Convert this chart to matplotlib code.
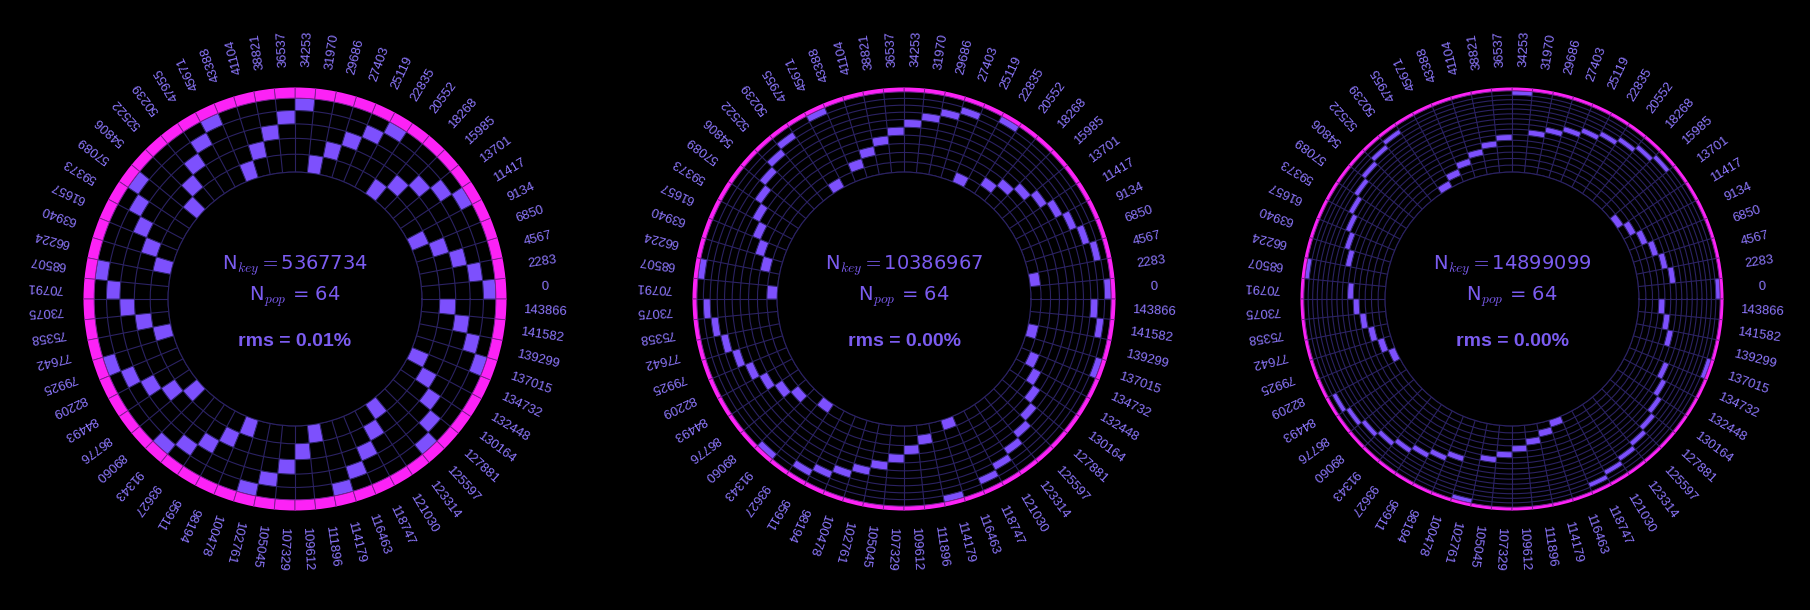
import numpy as np
import matplotlib
matplotlib.use("Agg")
import matplotlib.pyplot as plt

plt.rcParams['mathtext.fontset'] = 'cm'

# bucket boundaries printed round the rings, counter-clockwise from east
bin_labels = ["0", "2283", "4567", "6850", "9134", "11417", "13701", "15985",
              "18268", "20552", "22835", "25119", "27403", "29686", "31970", "34253",
              "36537", "38821", "41104", "43388", "45671", "47955", "50239", "52522",
              "54806", "57089", "59373", "61657", "63940", "66224", "68507", "70791",
              "73075", "75358", "77642", "79925", "82209", "84493", "86776", "89060",
              "91343", "93627", "95911", "98194", "100478", "102761", "105045", "107329",
              "109612", "111896", "114179", "116463", "118747", "121030", "123314", "125597",
              "127881", "130164", "132448", "134732", "137015", "139299", "141582", "143866"]

# ring (0 = innermost) holding each bucket's cell, same order as the labels
rings_a = [4, 3, 2, 1, 0, 4, 3, 2, 1, 0, 4, 3, 2, 1, 0, 4,
           3, 2, 1, 0, 4, 3, 2, 1, 0, 4, 3, 2, 1, 0, 4, 3,
           2, 1, 0, 4, 3, 2, 1, 0, 4, 3, 2, 1, 0, 4, 3, 2,
           1, 0, 4, 3, 2, 1, 0, 4, 3, 2, 1, 0, 4, 3, 2, 1]
rings_b = [9, 0, 8, 7, 6, 5, 4, 3, 2, 1, 9, 0, 8, 7, 6, 5,
           4, 3, 2, 1, 9, 0, 8, 7, 6, 5, 4, 3, 2, 1, 9, 0,
           8, 7, 6, 5, 4, 3, 2, 1, 9, 0, 8, 7, 6, 5, 4, 3,
           2, 1, 9, 0, 8, 7, 6, 5, 4, 3, 2, 1, 9, 0, 8, 7]
rings_c = [14, 5, 4, 3, 2, 1, 0, 13, 12, 11, 10, 9, 8, 7, 6, 14,
           5, 4, 3, 2, 1, 0, 13, 12, 11, 10, 9, 8, 7, 6, 14, 5,
           4, 3, 2, 1, 0, 13, 12, 11, 10, 9, 8, 7, 6, 14, 5, 4,
           3, 2, 1, 0, 13, 12, 11, 10, 9, 8, 7, 6, 14, 5, 4, 3]

n_keys = [5367734, 10386967, 14899099]
n_pop = 64
rms_vals = ["0.01%", "0.00%", "0.00%"]
n_rings = [5, 10, 15]

# layout
r_top = [5.9, 10.67, 15.75]   # axis limit in ring units (magenta band is clipped there)
centers_px = [295, 904, 1512]
size_px = 423
W, H = 1810, 610

cell_col = '#7d50fd'
mag_col = '#fc22f6'
grid_col = '#2b2262'
text_col = '#7b5cf0'
lab_col = '#8e78ff'

fig = plt.figure(figsize=(W / 100, H / 100), dpi=100, facecolor='black')

nb = len(bin_labels)
width = 2 * np.pi / nb
theta = np.arange(nb) * width + width / 2

for k, rings in enumerate([rings_a, rings_b, rings_c]):
    cx = centers_px[k]
    ax = fig.add_axes([(cx - size_px / 2) / W, (H - 299 - size_px / 2) / H,
                       size_px / W, size_px / H], projection='polar')
    ax.set_facecolor('black')

    # equal-area rings: radius grows like sqrt of the ring value
    u0 = 0.5625 * r_top[k]
    ax.set_rscale('function', functions=(lambda u, u0=u0: np.sqrt(np.maximum(u + u0, 0)),
                                         lambda s, u0=u0: s ** 2 - u0))
    ax.set_rorigin(-u0)
    ax.set_rlim(0, r_top[k])

    ax.set_xticks(np.arange(nb) * width)
    ax.set_xticklabels([])
    ax.set_yticks(np.arange(n_rings[k] + 1))
    ax.set_yticklabels([])
    ax.tick_params(length=0)
    ax.grid(True, color=grid_col, linewidth=0.8)
    ax.set_axisbelow(True)
    ax.spines['polar'].set_visible(False)
    ax.spines['inner'].set_color(grid_col)
    ax.spines['inner'].set_linewidth(0.8)

    ax.bar(theta, 1, width=width, bottom=rings, color=cell_col,
           edgecolor=grid_col, linewidth=0.6, zorder=3)
    ax.bar(theta, 1, width=width, bottom=n_rings[k], color=mag_col,
           edgecolor='#7a1c8c', linewidth=0.6, zorder=3)
    ax.set_rlim(0, r_top[k])

    for ang, lab in zip(theta, bin_labels):
        ax.text(0.5 + 0.591 * np.cos(ang), 0.5 + 0.591 * np.sin(ang), lab,
                transform=ax.transAxes, rotation=np.degrees(ang), rotation_mode='anchor',
                ha='center', va='center', fontsize=9.4, color=lab_col,
                family='Liberation Sans')

    ax.text(0.5, 0.570, "N$_{key}=$" + str(n_keys[k]), transform=ax.transAxes,
            ha='center', va='baseline', fontsize=14, color=text_col)
    ax.text(0.5, 0.495, "N$_{pop}$ = " + str(n_pop), transform=ax.transAxes,
            ha='center', va='baseline', fontsize=14, color=text_col)
    ax.text(0.5, 0.388, "rms = " + rms_vals[k], transform=ax.transAxes,
            ha='center', va='baseline', fontsize=14, fontweight='bold',
            family='Liberation Sans', color=text_col)

fig.savefig('out.png', dpi=100, facecolor='black')
